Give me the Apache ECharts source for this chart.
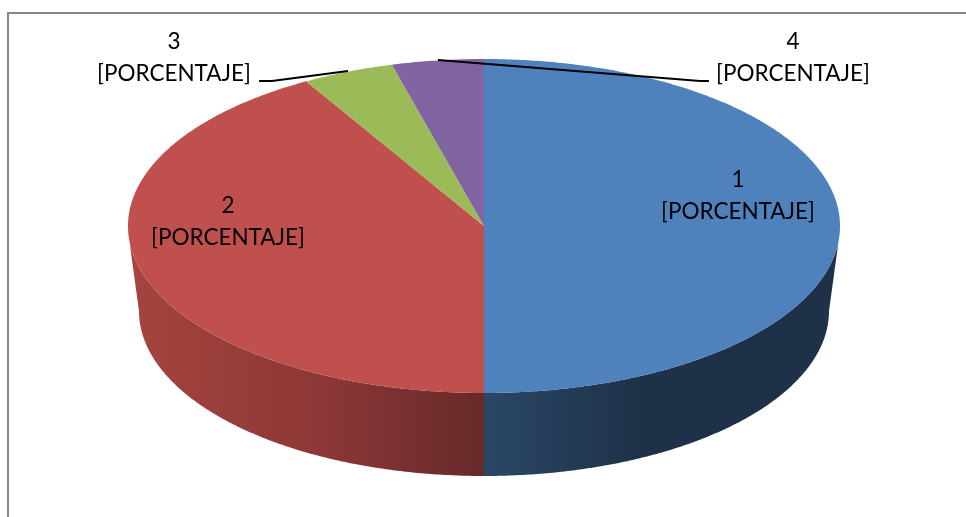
<!DOCTYPE html>
<html><head><meta charset="utf-8">
<style>html,body{margin:0;padding:0;background:#fff}#c{width:966px;height:517px}</style>
<script src="https://cdn.jsdelivr.net/npm/echarts@6/dist/echarts.min.js"></script>
</head><body><div id="c"></div>
<script>
// Data
const categories = ['1', '2', '3', '4'];
const values = [12, 10, 1, 1];
const pctLabel = '[PORCENTAJE]';

// Styling / layout (separate from data)
const topColors = ['#4f81bd', '#c0504d', '#9bbb59', '#8064a2'];
const wallStops = [
  [{offset: 0, color: '#2a4766'}, {offset: 0.45, color: '#1e3148'}, {offset: 1, color: '#1e3148'}],
  [{offset: 0, color: '#a5443f'}, {offset: 0.55, color: '#8c3736'}, {offset: 1, color: '#662a29'}]
];
const TOP = {cx: 484, cy: 226, rx: 356, ry: 167};
const BOT = {cx: 484, cy: 311, rx: 345, ry: 165};
const labelPos = [[738, 196], [228, 222], [174, 58], [793, 58]];
const leaders = {
  2: [[259, 81], [272, 81], [348, 71]],
  3: [[438, 60], [700, 81], [709, 81]]
};

const total = values.reduce((a, b) => a + b, 0);
const starts = [];
values.reduce((acc, v, i) => { starts[i] = acc; return acc + v; }, 0);
const ang = v => v / total * 360;
// angle measured clockwise from 12 o'clock
const pt = (e, deg) => {
  const r = deg * Math.PI / 180;
  return [e.cx + e.rx * Math.sin(r), e.cy - e.ry * Math.cos(r)];
};
const arc = (e, a, b) => {
  const n = Math.max(2, Math.ceil(Math.abs(b - a) * 2)), out = [];
  for (let i = 0; i <= n; i++) out.push(pt(e, a + (b - a) * i / n));
  return out;
};
const rows = categories.map((c, i) => [i, values[i], starts[i]]);

function renderWall(params, api) {
  const i = api.value(0);
  const a0 = ang(api.value(2)), a1 = a0 + ang(api.value(1));
  const a = Math.max(a0, 95), b = Math.min(a1, 265);
  if (b <= a) return {type: 'group', children: []};
  const la = Math.max(a0, 90), lb = Math.min(a1, 270);
  const pts = arc(TOP, a, b).concat(arc(BOT, lb, la));
  const xs = pts.map(p => p[0]);
  const x0 = Math.min(...xs), x1 = Math.max(...xs);
  const grad = new echarts.graphic.LinearGradient(x0, 0, x1, 0, wallStops[i === 1 ? 1 : 0], true);
  return {type: 'polygon', shape: {points: pts}, style: {fill: grad}};
}
function renderTop(params, api) {
  const i = api.value(0);
  const a0 = ang(api.value(2)), a1 = a0 + ang(api.value(1));
  const pts = [[TOP.cx, TOP.cy]].concat(arc(TOP, a0, a1));
  return {type: 'polygon', shape: {points: pts}, style: {fill: topColors[i]}};
}
function renderLabel(params, api) {
  const i = api.value(0);
  const children = [{
    type: 'text',
    x: labelPos[i][0], y: labelPos[i][1],
    style: {
      text: categories[i] + '\n' + pctLabel,
      fontFamily: 'Lato', fontSize: 22.5, lineHeight: 32,
      fill: '#000', align: 'center', verticalAlign: 'middle'
    }
  }];
  if (leaders[i]) children.push({
    type: 'polyline', shape: {points: leaders[i]},
    style: {stroke: '#000', lineWidth: 2, fill: null}
  });
  return {type: 'group', children};
}

const chart = echarts.init(document.getElementById('c'), null, {renderer: 'canvas'});
chart.setOption({
  animation: false,
  backgroundColor: '#fff',
  graphic: [{
    type: 'rect', shape: {x: 8, y: 13, width: 1200, height: 1200},
    style: {fill: 'none', stroke: '#868686', lineWidth: 2}, silent: true, z: -1
  }],
  series: [
    {type: 'custom', coordinateSystem: 'none', data: rows, renderItem: renderWall, silent: true, z: 2},
    {type: 'custom', coordinateSystem: 'none', data: rows, renderItem: renderTop, silent: true, z: 3},
    {type: 'custom', coordinateSystem: 'none', data: rows, renderItem: renderLabel, silent: true, z: 4}
  ]
});
</script></body></html>
